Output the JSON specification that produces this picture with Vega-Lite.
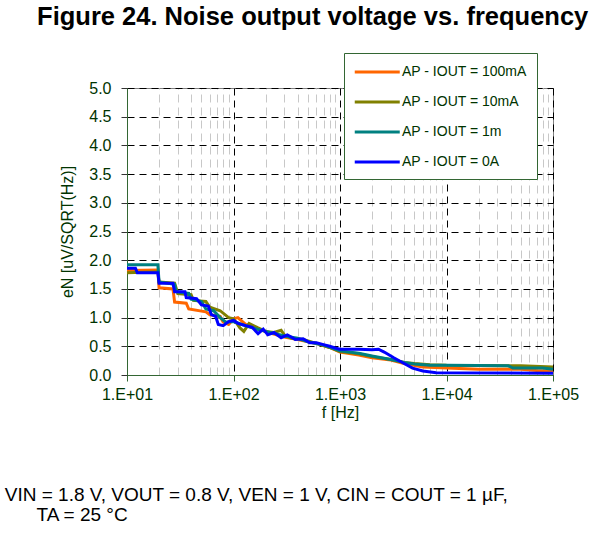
{
  "$schema": "https://vega.github.io/schema/vega-lite/v6.json",
  "background": "white",
  "padding": {"left": 4, "top": 5, "right": 5, "bottom": 5},
  "config": {"font": "Liberation Sans", "view": {"stroke": "#808080", "strokeWidth": 1}},
  "title": {"text": "Figure 24. Noise output voltage vs. frequency", "font": "Liberation Sans", "fontSize": 25.5, "fontWeight": "bold", "color": "black", "anchor": "middle", "offset": 22, "dx": 21},
  "vconcat": [
    {
      "width": 426,
      "height": 287,
      "title": {"text": ["VIN = 1.8 V, VOUT = 0.8 V, VEN = 1 V, CIN = COUT = 1 µF,", "\u200b\u00a0\u00a0\u00a0\u00a0\u00a0\u00a0TA = 25 °C"], "orient": "bottom", "anchor": "start", "frame": "bounds", "dx": -55, "offset": 66, "font": "Liberation Sans", "fontSize": 19, "fontWeight": "normal", "color": "black", "lineHeight": 20},
      "data": {"values": [
        {"s": "AP - IOUT = 100mA", "f": 10, "eN": 1.82},
        {"s": "AP - IOUT = 100mA", "f": 19.5, "eN": 1.83},
        {"s": "AP - IOUT = 100mA", "f": 20, "eN": 1.52},
        {"s": "AP - IOUT = 100mA", "f": 27, "eN": 1.5},
        {"s": "AP - IOUT = 100mA", "f": 28, "eN": 1.27},
        {"s": "AP - IOUT = 100mA", "f": 36, "eN": 1.25},
        {"s": "AP - IOUT = 100mA", "f": 38, "eN": 1.15},
        {"s": "AP - IOUT = 100mA", "f": 55, "eN": 1.1},
        {"s": "AP - IOUT = 100mA", "f": 60, "eN": 1.05},
        {"s": "AP - IOUT = 100mA", "f": 75, "eN": 1.02},
        {"s": "AP - IOUT = 100mA", "f": 80, "eN": 0.92},
        {"s": "AP - IOUT = 100mA", "f": 90, "eN": 0.88},
        {"s": "AP - IOUT = 100mA", "f": 100, "eN": 0.98},
        {"s": "AP - IOUT = 100mA", "f": 110, "eN": 1.0},
        {"s": "AP - IOUT = 100mA", "f": 130, "eN": 0.88},
        {"s": "AP - IOUT = 100mA", "f": 170, "eN": 0.8},
        {"s": "AP - IOUT = 100mA", "f": 230, "eN": 0.72},
        {"s": "AP - IOUT = 100mA", "f": 300, "eN": 0.66},
        {"s": "AP - IOUT = 100mA", "f": 400, "eN": 0.62},
        {"s": "AP - IOUT = 100mA", "f": 600, "eN": 0.55},
        {"s": "AP - IOUT = 100mA", "f": 800, "eN": 0.48},
        {"s": "AP - IOUT = 100mA", "f": 1000, "eN": 0.4},
        {"s": "AP - IOUT = 100mA", "f": 1500, "eN": 0.35},
        {"s": "AP - IOUT = 100mA", "f": 2000, "eN": 0.3},
        {"s": "AP - IOUT = 100mA", "f": 3000, "eN": 0.26},
        {"s": "AP - IOUT = 100mA", "f": 4000, "eN": 0.2},
        {"s": "AP - IOUT = 100mA", "f": 6000, "eN": 0.14},
        {"s": "AP - IOUT = 100mA", "f": 10000, "eN": 0.12},
        {"s": "AP - IOUT = 100mA", "f": 20000, "eN": 0.1},
        {"s": "AP - IOUT = 100mA", "f": 50000, "eN": 0.1},
        {"s": "AP - IOUT = 100mA", "f": 70000, "eN": 0.08},
        {"s": "AP - IOUT = 100mA", "f": 100000, "eN": 0.07},
        {"s": "AP - IOUT = 10mA", "f": 10, "eN": 1.78},
        {"s": "AP - IOUT = 10mA", "f": 19.5, "eN": 1.8},
        {"s": "AP - IOUT = 10mA", "f": 20, "eN": 1.62},
        {"s": "AP - IOUT = 10mA", "f": 28, "eN": 1.6},
        {"s": "AP - IOUT = 10mA", "f": 30, "eN": 1.42},
        {"s": "AP - IOUT = 10mA", "f": 40, "eN": 1.4},
        {"s": "AP - IOUT = 10mA", "f": 42, "eN": 1.3},
        {"s": "AP - IOUT = 10mA", "f": 55, "eN": 1.28},
        {"s": "AP - IOUT = 10mA", "f": 60, "eN": 1.18},
        {"s": "AP - IOUT = 10mA", "f": 75, "eN": 1.12},
        {"s": "AP - IOUT = 10mA", "f": 90, "eN": 1.0},
        {"s": "AP - IOUT = 10mA", "f": 100, "eN": 0.98},
        {"s": "AP - IOUT = 10mA", "f": 115, "eN": 0.82},
        {"s": "AP - IOUT = 10mA", "f": 125, "eN": 0.76},
        {"s": "AP - IOUT = 10mA", "f": 140, "eN": 0.9},
        {"s": "AP - IOUT = 10mA", "f": 170, "eN": 0.82},
        {"s": "AP - IOUT = 10mA", "f": 200, "eN": 0.76},
        {"s": "AP - IOUT = 10mA", "f": 240, "eN": 0.74},
        {"s": "AP - IOUT = 10mA", "f": 280, "eN": 0.78},
        {"s": "AP - IOUT = 10mA", "f": 300, "eN": 0.7},
        {"s": "AP - IOUT = 10mA", "f": 350, "eN": 0.64},
        {"s": "AP - IOUT = 10mA", "f": 450, "eN": 0.62},
        {"s": "AP - IOUT = 10mA", "f": 600, "eN": 0.55},
        {"s": "AP - IOUT = 10mA", "f": 800, "eN": 0.48},
        {"s": "AP - IOUT = 10mA", "f": 1000, "eN": 0.41},
        {"s": "AP - IOUT = 10mA", "f": 1500, "eN": 0.37},
        {"s": "AP - IOUT = 10mA", "f": 2000, "eN": 0.32},
        {"s": "AP - IOUT = 10mA", "f": 3000, "eN": 0.27},
        {"s": "AP - IOUT = 10mA", "f": 4000, "eN": 0.22},
        {"s": "AP - IOUT = 10mA", "f": 5000, "eN": 0.2},
        {"s": "AP - IOUT = 10mA", "f": 7000, "eN": 0.18},
        {"s": "AP - IOUT = 10mA", "f": 10000, "eN": 0.17},
        {"s": "AP - IOUT = 10mA", "f": 50000, "eN": 0.16},
        {"s": "AP - IOUT = 10mA", "f": 100000, "eN": 0.14},
        {"s": "AP - IOUT = 1m", "f": 10, "eN": 1.92},
        {"s": "AP - IOUT = 1m", "f": 19.5, "eN": 1.92},
        {"s": "AP - IOUT = 1m", "f": 20, "eN": 1.62},
        {"s": "AP - IOUT = 1m", "f": 28, "eN": 1.58},
        {"s": "AP - IOUT = 1m", "f": 29, "eN": 1.45},
        {"s": "AP - IOUT = 1m", "f": 38, "eN": 1.42},
        {"s": "AP - IOUT = 1m", "f": 40, "eN": 1.32},
        {"s": "AP - IOUT = 1m", "f": 50, "eN": 1.28},
        {"s": "AP - IOUT = 1m", "f": 55, "eN": 1.15},
        {"s": "AP - IOUT = 1m", "f": 65, "eN": 1.12},
        {"s": "AP - IOUT = 1m", "f": 75, "eN": 1.0},
        {"s": "AP - IOUT = 1m", "f": 85, "eN": 0.92},
        {"s": "AP - IOUT = 1m", "f": 100, "eN": 0.93},
        {"s": "AP - IOUT = 1m", "f": 120, "eN": 0.88},
        {"s": "AP - IOUT = 1m", "f": 150, "eN": 0.82},
        {"s": "AP - IOUT = 1m", "f": 200, "eN": 0.76},
        {"s": "AP - IOUT = 1m", "f": 250, "eN": 0.72},
        {"s": "AP - IOUT = 1m", "f": 300, "eN": 0.68},
        {"s": "AP - IOUT = 1m", "f": 400, "eN": 0.64},
        {"s": "AP - IOUT = 1m", "f": 500, "eN": 0.58},
        {"s": "AP - IOUT = 1m", "f": 700, "eN": 0.52},
        {"s": "AP - IOUT = 1m", "f": 1000, "eN": 0.42},
        {"s": "AP - IOUT = 1m", "f": 1500, "eN": 0.38},
        {"s": "AP - IOUT = 1m", "f": 2000, "eN": 0.33},
        {"s": "AP - IOUT = 1m", "f": 3000, "eN": 0.27},
        {"s": "AP - IOUT = 1m", "f": 4000, "eN": 0.22},
        {"s": "AP - IOUT = 1m", "f": 5000, "eN": 0.19},
        {"s": "AP - IOUT = 1m", "f": 7000, "eN": 0.17},
        {"s": "AP - IOUT = 1m", "f": 10000, "eN": 0.17},
        {"s": "AP - IOUT = 1m", "f": 38000, "eN": 0.16},
        {"s": "AP - IOUT = 1m", "f": 42000, "eN": 0.12},
        {"s": "AP - IOUT = 1m", "f": 80000, "eN": 0.12},
        {"s": "AP - IOUT = 1m", "f": 100000, "eN": 0.1},
        {"s": "AP - IOUT = 0A", "f": 10, "eN": 1.86},
        {"s": "AP - IOUT = 0A", "f": 12, "eN": 1.86},
        {"s": "AP - IOUT = 0A", "f": 12.5, "eN": 1.78},
        {"s": "AP - IOUT = 0A", "f": 19.5, "eN": 1.78},
        {"s": "AP - IOUT = 0A", "f": 20, "eN": 1.6},
        {"s": "AP - IOUT = 0A", "f": 27, "eN": 1.6},
        {"s": "AP - IOUT = 0A", "f": 28, "eN": 1.45},
        {"s": "AP - IOUT = 0A", "f": 35, "eN": 1.45},
        {"s": "AP - IOUT = 0A", "f": 36, "eN": 1.35},
        {"s": "AP - IOUT = 0A", "f": 45, "eN": 1.33},
        {"s": "AP - IOUT = 0A", "f": 50, "eN": 1.22},
        {"s": "AP - IOUT = 0A", "f": 58, "eN": 1.2},
        {"s": "AP - IOUT = 0A", "f": 62, "eN": 1.05},
        {"s": "AP - IOUT = 0A", "f": 68, "eN": 1.02},
        {"s": "AP - IOUT = 0A", "f": 72, "eN": 0.88},
        {"s": "AP - IOUT = 0A", "f": 80, "eN": 0.86},
        {"s": "AP - IOUT = 0A", "f": 90, "eN": 0.93},
        {"s": "AP - IOUT = 0A", "f": 100, "eN": 0.95},
        {"s": "AP - IOUT = 0A", "f": 110, "eN": 0.9},
        {"s": "AP - IOUT = 0A", "f": 130, "eN": 0.86},
        {"s": "AP - IOUT = 0A", "f": 150, "eN": 0.83},
        {"s": "AP - IOUT = 0A", "f": 170, "eN": 0.72},
        {"s": "AP - IOUT = 0A", "f": 190, "eN": 0.8},
        {"s": "AP - IOUT = 0A", "f": 210, "eN": 0.7},
        {"s": "AP - IOUT = 0A", "f": 240, "eN": 0.74},
        {"s": "AP - IOUT = 0A", "f": 280, "eN": 0.65},
        {"s": "AP - IOUT = 0A", "f": 320, "eN": 0.7},
        {"s": "AP - IOUT = 0A", "f": 380, "eN": 0.62},
        {"s": "AP - IOUT = 0A", "f": 450, "eN": 0.63},
        {"s": "AP - IOUT = 0A", "f": 520, "eN": 0.56},
        {"s": "AP - IOUT = 0A", "f": 600, "eN": 0.56},
        {"s": "AP - IOUT = 0A", "f": 700, "eN": 0.53},
        {"s": "AP - IOUT = 0A", "f": 800, "eN": 0.5},
        {"s": "AP - IOUT = 0A", "f": 900, "eN": 0.47},
        {"s": "AP - IOUT = 0A", "f": 1000, "eN": 0.45},
        {"s": "AP - IOUT = 0A", "f": 1500, "eN": 0.45},
        {"s": "AP - IOUT = 0A", "f": 2000, "eN": 0.44},
        {"s": "AP - IOUT = 0A", "f": 2300, "eN": 0.45},
        {"s": "AP - IOUT = 0A", "f": 2600, "eN": 0.4},
        {"s": "AP - IOUT = 0A", "f": 3200, "eN": 0.3},
        {"s": "AP - IOUT = 0A", "f": 4000, "eN": 0.2},
        {"s": "AP - IOUT = 0A", "f": 4800, "eN": 0.12},
        {"s": "AP - IOUT = 0A", "f": 6000, "eN": 0.07},
        {"s": "AP - IOUT = 0A", "f": 8000, "eN": 0.04},
        {"s": "AP - IOUT = 0A", "f": 100000, "eN": 0.03}
      ]},
      "layer": [
        {
          "mark": {"type": "point", "opacity": 0},
          "encoding": {
            "x": {"field": "f", "type": "quantitative", "scale": {"type": "log", "domain": [10, 100000], "nice": false},
              "axis": {"orient": "top", "values": [20,30,40,50,60,70,80,90,200,300,400,500,600,700,800,900,2000,3000,4000,5000,6000,7000,8000,9000,20000,30000,40000,50000,60000,70000,80000,90000], "grid": true, "gridColor": "#c8c8c8", "gridDash": [8, 5], "labels": false, "ticks": false, "domain": false, "title": null}},
            "y": {"field": "eN", "type": "quantitative", "scale": {"domain": [0, 5], "nice": false}, "axis": null}
          }
        },
        {
          "mark": {"type": "line", "strokeWidth": 3},
          "encoding": {
            "x": {"field": "f", "type": "quantitative", "scale": {"type": "log", "domain": [10, 100000], "nice": false},
              "axis": {"values": [10, 100, 1000, 10000, 100000], "labelExpr": "'1.E+0' + format(log(datum.value) / LN10, '.0f')", "grid": true, "gridColor": "black", "gridDash": [7, 5], "domainColor": "#336633", "tickColor": "#336633", "tickSize": 6, "labelPadding": 5, "labelFontSize": 16, "labelColor": "#003300", "labelFlush": false, "labelOverlap": false, "title": "f [Hz]", "titleFontSize": 16, "titleFontWeight": "normal", "titleColor": "#003300", "titlePadding": 2}},
            "y": {"field": "eN", "type": "quantitative", "scale": {"domain": [0, 5], "nice": false},
              "axis": {"values": [0, 0.5, 1, 1.5, 2, 2.5, 3, 3.5, 4, 4.5, 5], "format": ".1f", "grid": true, "gridColor": "black", "gridDash": [7, 5], "domainColor": "#336633", "tickColor": "#333333", "tickSize": 6, "labelPadding": 10, "labelFontSize": 16, "labelColor": "#003300", "labelFlush": false, "labelOverlap": false, "title": "eN [uV/SQRT(Hz)]", "titleFontSize": 16, "titleFontWeight": "normal", "titleColor": "#003300", "titlePadding": 13}},
            "color": {"field": "s", "type": "nominal",
              "scale": {"domain": ["AP - IOUT = 100mA", "AP - IOUT = 10mA", "AP - IOUT = 1m", "AP - IOUT = 0A"], "range": ["#ff6600", "#808000", "#008080", "#0000ff"]},
              "legend": {"orient": "none", "legendX": 217, "legendY": -35, "title": null, "fillColor": "white", "strokeColor": "#336633", "padding": 10, "symbolType": "M-1.1,0L4.9,0", "symbolSize": 225, "symbolStrokeWidth": 3, "labelFontSize": 14, "labelColor": "#003300", "rowPadding": 14, "labelOffset": 30}}
          }
        }
      ],
      "resolve": {"axis": {"x": "independent", "y": "independent"}}
    }
  ]
}
